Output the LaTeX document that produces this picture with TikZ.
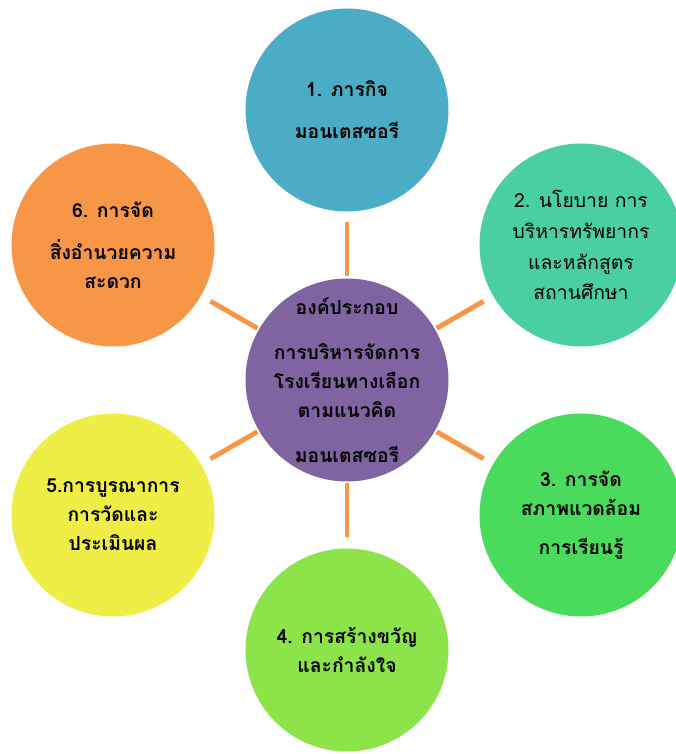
\documentclass[tikz,border=0pt]{standalone}
\usepackage{fontspec}
\usepackage{tikz}
\newfontfamily\thaifont[Script=Thai]{Loma}

\definecolor{aquaC}{HTML}{4BACC6}
\definecolor{mintC}{HTML}{4ACFA4}
\definecolor{greenC}{HTML}{4ADB5C}
\definecolor{limeC}{HTML}{8DE44A}
\definecolor{yellowC}{HTML}{EEEE46}
\definecolor{orangeC}{HTML}{F79646}
\definecolor{purpleC}{HTML}{8064A2}

\tikzset{
  bubble/.style={circle, minimum size=4.06cm, inner sep=0pt, outer sep=0pt},
  txt/.style={align=center, inner sep=0pt, font=\thaifont\bfseries\fontsize{11}{16.5}\selectfont},
  spoke/.style={orangeC, line width=2.8pt, shorten <=0.04cm, shorten >=0.22cm}
}

\begin{document}
\begin{tikzpicture}

\useasboundingbox (0,0) rectangle (13.5,15.08);

\node[bubble, fill=purpleC] (ctr) at (6.94,7.48) {};
\node[bubble, fill=aquaC] (c1) at (6.94,12.88) {};
\node[bubble, fill=mintC] (c2) at (11.62,10.18) {};
\node[bubble, fill=greenC] (c3) at (11.62,4.78) {};
\node[bubble, fill=limeC] (c4) at (6.94,2.08) {};
\node[bubble, fill=yellowC] (c5) at (2.26,4.78) {};
\node[bubble, fill=orangeC] (c6) at (2.26,10.18) {};

\foreach \n in {c1,c2,c3,c4,c5,c6}
\draw[spoke] (ctr) -- (\n);

\node[txt] (tctr) at (ctr) {องค์ประกอบ\\[9pt] การบริหารจัดการ\\ โรงเรียนทางเลือก\\ ตามแนวคิด\\[9pt] มอนเตสซอรี};
\node[txt] (t1) at (c1) {1. ภารกิจ\\[7.5pt] มอนเตสซอรี};
\node[txt, font=\thaifont\fontsize{11}{17.5}\selectfont] (t2) at (c2) {2. นโยบาย การ\\ บริหารทรัพยากร\\ และหลักสูตร\\ สถานศึกษา};
\node[txt] (t3) at (c3) {3. การจัด\\ สภาพแวดล้อม\\[6pt] การเรียนรู้};
\node[txt] (t4) at (c4) {4. การสร้างขวัญ\\ และกำลังใจ};
\node[txt] (t5) at (c5) {5.การบูรณาการ\\ การวัดและ\\ ประเมินผล};
\node[txt] (t6) at (c6) {6. การจัด\\[7.5pt] สิ่งอำนวยความ\\ สะดวก};

\end{tikzpicture}
\end{document}
